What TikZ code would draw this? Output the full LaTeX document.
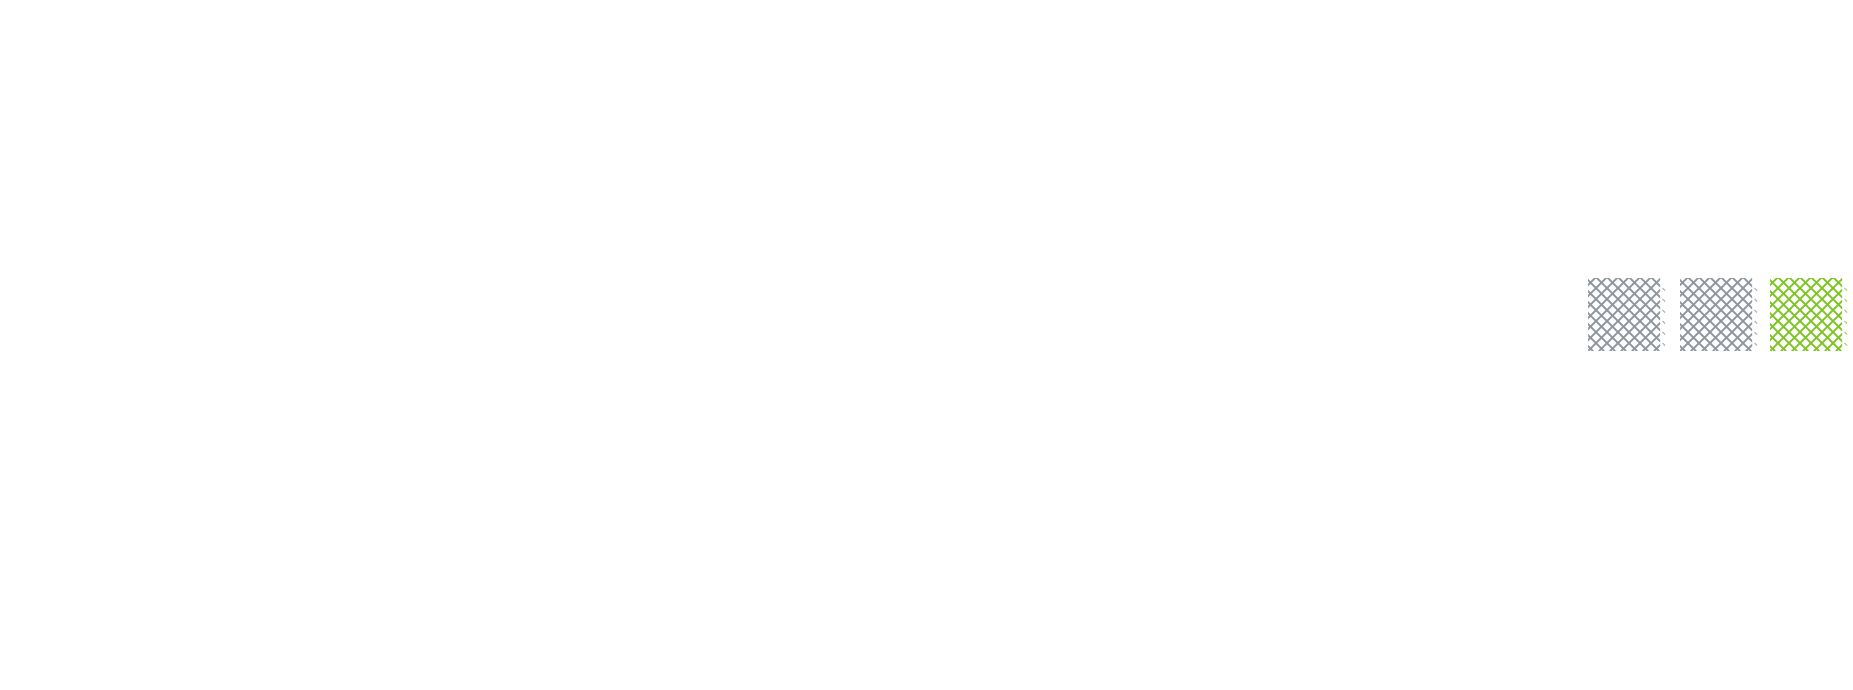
\documentclass[tikz,border=0pt]{standalone}
\definecolor{hgray}{HTML}{8E959D}
\definecolor{hgreen}{HTML}{7EC423}
\tikzset{
  hatch/.style={line width=1.6pt, line cap=round},
  hatchb/.style={line width=0.6pt, line cap=round, opacity=0.5},
}
\newcommand{\hatchsq}[4]{% x, y(top-down), size, colour
  \begin{scope}[shift={(#1pt,{(690-#2-#3)*1pt})}, x=1pt, y=1pt]
    \begin{scope}
      \clip (0,0) rectangle (#3,#3);
      \foreach \i in {-110,-99,...,110}{
        \draw[hatch,#4] (\i,0) -- ++(120,120);
        \draw[hatch,#4] (\i+4,0) ++(100,0) -- ++(-120,120);
        \draw[hatchb,#4] (\i+1.2,0) -- ++(120,120);
        \draw[hatchb,#4] (\i+2.8,0) ++(100,0) -- ++(-120,120);
      }
    \end{scope}
    \foreach \j in {8,19,...,66}{
      \draw[line width=0.9pt,#4,opacity=0.8] (#3+2.5,\j) -- ++(2.5,-2.5);
    }
  \end{scope}
}
\begin{document}
\begin{tikzpicture}
  \useasboundingbox[fill=white] (0,0) rectangle (1853pt,690pt);
  \hatchsq{1588}{279}{72}{hgray}
  \hatchsq{1680}{279}{72}{hgray}
  \hatchsq{1770}{279}{72}{hgreen}
\end{tikzpicture}
\end{document}
